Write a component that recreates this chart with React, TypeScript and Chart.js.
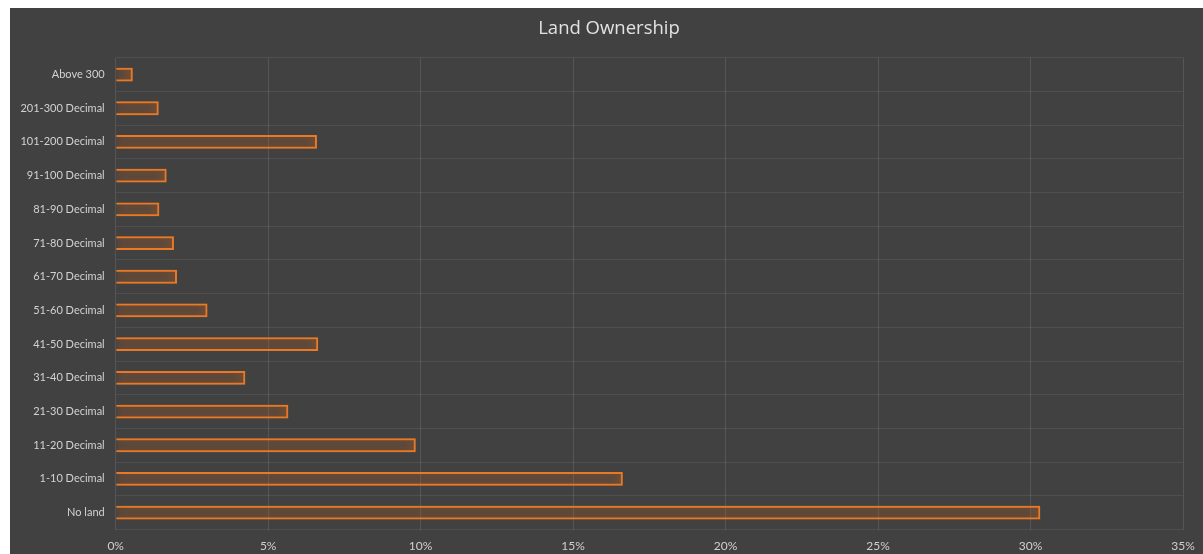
import React, { useEffect, useRef } from "react";
import { Chart, registerables } from "chart.js";

Chart.register(...registerables);

const categories = [
  "Above 300",
  "201-300 Decimal",
  "101-200 Decimal",
  "91-100 Decimal",
  "81-90 Decimal",
  "71-80 Decimal",
  "61-70 Decimal",
  "51-60 Decimal",
  "41-50 Decimal",
  "31-40 Decimal",
  "21-30 Decimal",
  "11-20 Decimal",
  "1-10 Decimal",
  "No land",
];

const shares = [0.56, 1.41, 6.6, 1.67, 1.43, 1.91, 2.01, 3.01, 6.64, 4.25, 5.66, 9.84, 16.63, 30.32];

const xMin = 0;
const xMax = 35;
const xStep = 5;

const glowPlugin = {
  id: "glow",
  beforeDatasetsDraw(chart: any) {
    const ctx = chart.ctx;
    ctx.save();
    ctx.shadowColor = "rgba(245,120,30,0.9)";
    ctx.shadowBlur = 9;
  },
  afterDatasetsDraw(chart: any) {
    chart.ctx.restore();
  },
};

const bgPlugin = {
  id: "bg",
  beforeDraw(chart: any) {
    const ctx = chart.ctx;
    ctx.save();
    ctx.fillStyle = "#414141";
    ctx.fillRect(0, 0, chart.width, chart.height);
    ctx.restore();
  },
};

export default function App() {
  const ref = useRef<HTMLCanvasElement>(null);
  useEffect(() => {
    if (!ref.current) return;
    const chart = new Chart(ref.current, {
      type: "bar",
      data: {
        labels: categories,
        datasets: [
          {
            data: shares,
            backgroundColor: "rgba(232,120,36,0.02)",
            borderColor: "#ea7a26",
            borderWidth: 2,
            barPercentage: 0.41,
            categoryPercentage: 1,
          },
        ],
      },
      options: {
        indexAxis: "y",
        animation: false,
        responsive: false,
        maintainAspectRatio: false,
        layout: { padding: { top: 0, right: 0, left: 5, bottom: 0 } },
        plugins: {
          legend: { display: false },
          tooltip: { enabled: false },
          title: {
            display: true,
            text: "Land Ownership",
            color: "#e2e2e2",
            font: { family: "Open Sans", size: 18.5, weight: "normal" },
            padding: { top: 10, bottom: 17.5 },
          },
        },
        scales: {
          x: {
            min: xMin,
            max: xMax,
            ticks: {
              stepSize: xStep,
              color: "#cfcfcf",
              font: { family: "Lato", size: 12 },
              padding: 9,
              callback: (v: any) => v + "%",
            },
            grid: { color: "rgba(255,255,255,0.11)", drawTicks: false },
            border: { display: false },
            afterFit: (s: any) => {
              s.height = 24.5;
              s.paddingRight = 20;
            },
          },
          y: {
            ticks: {
              color: "#d2d2d2",
              font: { family: "Lato", size: 11 },
              padding: 11,
            },
            grid: { color: "rgba(255,255,255,0.08)", drawTicks: false, offset: true },
            border: { display: false },
            afterFit: (s: any) => {
              s.width = 100.7;
            },
          },
        },
      },
      plugins: [bgPlugin, glowPlugin],
    });
    return () => chart.destroy();
  }, []);
  return (
    <div style={{ position: "absolute", left: 10, top: 8, width: 1193, height: 546 }}>
      <canvas ref={ref} width={1193} height={546} style={{ display: "block" }} />
    </div>
  );
}
